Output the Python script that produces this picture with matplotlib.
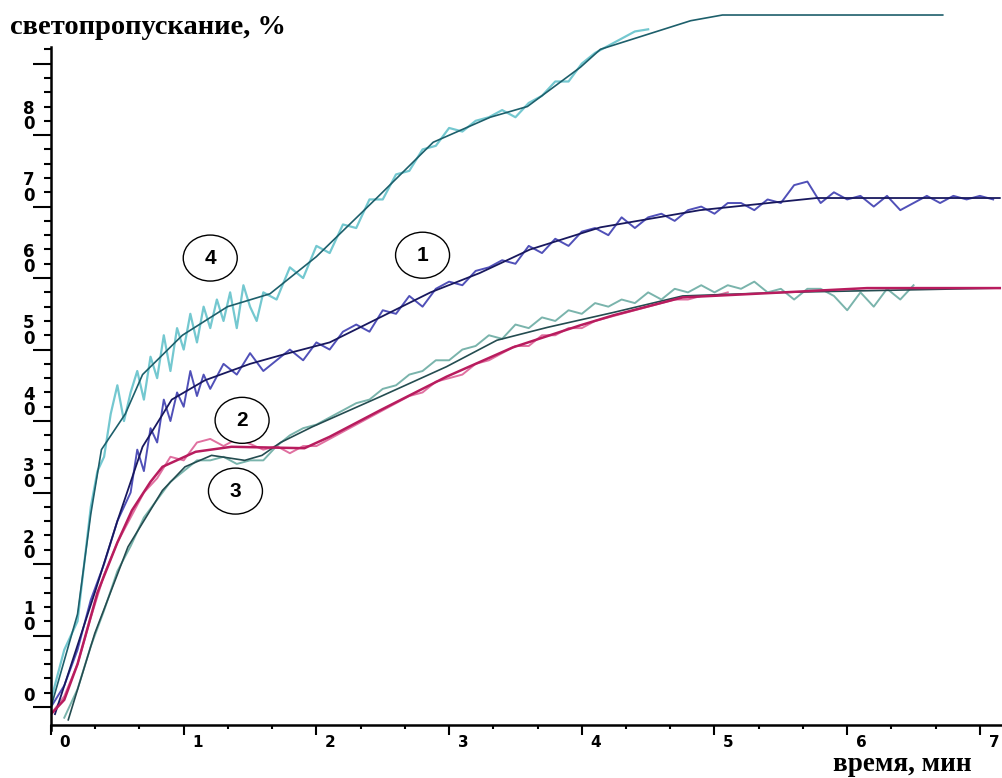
import numpy as np
import matplotlib
matplotlib.use('Agg')
from matplotlib import pyplot as plt
from matplotlib.patches import Ellipse
from matplotlib.transforms import ScaledTranslation

# --- curve 4 (top, cyan) ---
t4_fit = [0.0, 0.2, 0.3, 0.38, 0.56, 0.69, 0.99, 1.33, 1.65, 2.0, 2.46, 2.88, 3.31, 3.59, 3.99, 4.14, 4.82, 5.06, 6.72]
v4_fit = [0, 13, 27, 36, 41, 46.5, 52, 56, 57.8, 63, 71.3, 79, 82.5, 84, 89.5, 92, 96, 96.8, 96.8]
t4_raw = [0.0, 0.1, 0.2, 0.3, 0.35, 0.4, 0.45, 0.5, 0.55, 0.6, 0.65, 0.7, 0.75, 0.8, 0.85, 0.9, 0.95, 1.0,
          1.05, 1.1, 1.15, 1.2, 1.25, 1.3, 1.35, 1.4, 1.45, 1.5, 1.55, 1.6, 1.7, 1.8, 1.9,
          2.0, 2.1, 2.2, 2.3, 2.4, 2.5, 2.6, 2.7, 2.8, 2.9, 3.0, 3.1, 3.2, 3.3, 3.4, 3.5, 3.6, 3.7, 3.8, 3.9,
          4.0, 4.1, 4.2, 4.3, 4.4, 4.5]
v4_raw = [1, 8, 12, 28, 33, 35, 41, 45, 40, 44, 47, 43, 49, 46, 52, 47, 53, 50, 55,
          51, 56, 53, 57, 54, 58, 53, 59, 56, 54, 58, 57, 61.5, 60,
          64.5, 63.5, 67.5, 67, 71, 71, 74.5, 75, 78, 78.5, 81, 80.5, 82, 82.5, 83.5, 82.5, 84.5, 85.5, 87.5, 87.5,
          90, 91.5, 92.5, 93.5, 94.5, 94.8]

# --- curve 1 (dark blue) ---
t1_fit = [0.03, 0.33, 0.5, 0.69, 0.91, 1.16, 1.5, 1.73, 2.1, 2.48, 2.86, 3.23, 3.61, 4.14, 4.89, 5.77, 7.15]
v1_fit = [-1, 16, 26, 36.4, 43, 45.7, 48, 49.2, 51, 54.5, 58, 60.7, 64, 67.1, 69.5, 71.2, 71.2]
t1_raw = [0.0, 0.1, 0.2, 0.3, 0.4, 0.5, 0.6, 0.65, 0.7, 0.75, 0.8, 0.85, 0.9, 0.95, 1.0, 1.05, 1.1, 1.15, 1.2,
          1.3, 1.4, 1.5, 1.6, 1.7, 1.8, 1.9,
          2.0, 2.1, 2.2, 2.3, 2.4, 2.5, 2.6, 2.7, 2.8, 2.9, 3.0, 3.1, 3.2, 3.3, 3.4, 3.5, 3.6, 3.7, 3.8, 3.9,
          4.0, 4.1, 4.2, 4.3, 4.4, 4.5, 4.6, 4.7, 4.8, 4.9, 5.0, 5.1, 5.2, 5.3, 5.4, 5.5, 5.6, 5.7, 5.8, 5.9,
          6.0, 6.1, 6.2, 6.3, 6.4, 6.5, 6.6, 6.7, 6.8, 6.9, 7.0, 7.1]
v1_raw = [0, 3, 8, 15, 20, 26, 30, 36, 33, 39, 37, 43, 40, 44, 42, 47, 43.5, 46.5, 44.5,
          48, 46.5, 49.5, 47, 48.5, 50, 48.5,
          51, 50, 52.5, 53.5, 52.5, 55.5, 55, 57.5, 56, 58.5, 59.5, 59, 61, 61.5, 62.5, 62, 64.5, 63.5, 65.5, 64.5,
          66.5, 67, 66, 68.5, 67, 68.5, 69, 68, 69.5, 70, 69, 70.5, 70.5, 69.5, 71, 70.5, 73, 73.5, 70.5, 72,
          71, 71.5, 70, 71.5, 69.5, 70.5, 71.5, 70.5, 71.5, 71, 71.5, 71]

# --- curve 2 (magenta) ---
t2_fit = [0.0, 0.1, 0.2, 0.35, 0.5, 0.61, 0.75, 0.84, 1.09, 1.36, 1.91, 2.1, 2.48, 2.98, 3.48, 3.99, 4.24, 4.76, 5.52, 6.15, 7.15]
v2_fit = [-1, 1, 6, 16, 23, 27.5, 31.5, 33.6, 35.7, 36.4, 36.2, 37.8, 41.5, 46.2, 50.3, 53.4, 54.8, 57.3, 58, 58.6, 58.6]
t2_raw = [0.0, 0.1, 0.2, 0.3, 0.4, 0.5, 0.6, 0.7, 0.8, 0.9, 1.0, 1.1, 1.2, 1.3, 1.4, 1.5, 1.6, 1.7, 1.8, 1.9,
          2.0, 2.1, 2.2, 2.3, 2.4, 2.5, 2.6, 2.7, 2.8, 2.9, 3.0, 3.1, 3.2, 3.3, 3.4, 3.5, 3.6, 3.7, 3.8, 3.9,
          4.0, 4.1, 4.2, 4.3, 4.4, 4.5, 4.6, 4.7, 4.8, 4.9, 5.0, 5.1]
v2_raw = [-1, 1.5, 6, 12.5, 18.5, 23, 26.5, 30, 32, 35, 34.5, 37, 37.5, 36.5, 37.5, 36.8, 36, 36.5, 35.5, 36.5,
          36.5, 37.5, 38.5, 39.5, 40.5, 41.5, 42.5, 43.5, 44, 45.5, 46, 46.5, 48, 48.5, 49.5, 50.5, 50.5, 52, 52, 53,
          53, 54, 54.5, 55, 55.5, 56, 56.5, 57, 57, 57.5, 57.5, 58]

# --- curve 3 (grey-teal) ---
t3_fit = [0.13, 0.33, 0.58, 0.84, 1.01, 1.21, 1.46, 1.59, 1.73, 1.97, 2.48, 2.98, 3.36, 3.74, 4.24, 4.76, 5.52, 7.15]
v3_fit = [-1.8, 10.3, 22.4, 30.3, 33.6, 35.2, 34.5, 35.2, 37, 39.2, 43.4, 47.6, 51.3, 53.1, 55.2, 57.5, 58, 58.6]
t3_raw = [0.1, 0.2, 0.3, 0.4, 0.5, 0.6, 0.7, 0.8, 0.9, 1.0, 1.1, 1.2, 1.3, 1.4, 1.5, 1.6, 1.7, 1.8, 1.9,
          2.0, 2.1, 2.2, 2.3, 2.4, 2.5, 2.6, 2.7, 2.8, 2.9, 3.0, 3.1, 3.2, 3.3, 3.4, 3.5, 3.6, 3.7, 3.8, 3.9,
          4.0, 4.1, 4.2, 4.3, 4.4, 4.5, 4.6, 4.7, 4.8, 4.9, 5.0, 5.1, 5.2, 5.3, 5.4, 5.5, 5.6, 5.7, 5.8, 5.9,
          6.0, 6.1, 6.2, 6.3, 6.4, 6.5]
v3_raw = [-1.5, 2.5, 8.5, 13.5, 19, 22.5, 26.5, 29, 31.5, 33, 34.5, 34.5, 35, 34, 34.5, 34.5, 36.5, 38, 39,
          39.5, 40.5, 41.5, 42.5, 43, 44.5, 45, 46.5, 47, 48.5, 48.5, 50, 50.5, 52, 51.5, 53.5, 53, 54.5, 54, 55.5,
          55, 56.5, 56, 57, 56.5, 58, 57, 58.5, 58, 59, 58, 59, 58.5, 59.5, 58, 58.5, 57, 58.5, 58.5, 57.5,
          55.5, 58, 56, 58.5, 57, 59]

curve_names = ['1', '2', '3', '4']
label_t = [2.80, 1.44, 1.39, 1.20]
label_v = [63.2, 40.1, 30.2, 62.8]

y_ticks = [0, 10, 20, 30, 40, 50, 60, 70, 80, 90]
y_labels = ['0', '1\n0', '2\n0', '3\n0', '4\n0', '5\n0', '6\n0', '7\n0', '8\n0', '']
x_ticks = [0, 1, 2, 3, 4, 5, 6, 7]

fig = plt.figure(figsize=(10.02, 7.78), dpi=100)
ax = fig.add_axes([51 / 1002, 53 / 778, 951 / 1002, 725 / 778])
ax.set_xlim(0, 951 / 132.7)
ax.set_ylim(-2.52, 98.9)

ax.plot(t4_raw, v4_raw, color='#74c8d0', lw=1.6)
ax.plot(t1_raw, v1_raw, color='#5050b8', lw=1.4)
ax.plot(t3_raw, v3_raw, color='#7ab4ac', lw=1.4)
ax.plot(t2_raw, v2_raw, color='#e070a0', lw=1.4)

ax.plot(t4_fit, v4_fit, color='#1d5f6b', lw=1.2)
ax.plot(t1_fit, v1_fit, color='#18185e', lw=1.3)
ax.plot(t3_fit, v3_fit, color='#244c50', lw=1.2)
ax.plot(t2_fit, v2_fit, color='#b81c5e', lw=1.8)

for name, lt, lv in zip(curve_names, label_t, label_v):
    ax.add_patch(Ellipse((lt, lv), 54 / 132.7, 46 / 7.15, facecolor='white', edgecolor='black', lw=1, zorder=5))
    ax.text(lt, lv, name, ha='center', va='center', fontsize=15, fontweight='bold',
            family='Liberation Sans', zorder=6)

for s in ['top', 'right']:
    ax.spines[s].set_visible(False)
ax.spines['left'].set_linewidth(1.8)
ax.spines['bottom'].set_linewidth(1.8)
ax.spines['left'].set_bounds(-3.2, 92.3)

ax.set_yticks(y_ticks, labels=y_labels)
ax.set_yticks(np.arange(0, 93, 2), minor=True)
ax.set_xticks(x_ticks, labels=[str(x) for x in x_ticks])
ax.set_xticks(np.arange(0, 7.2, 1 / 3), minor=True)
ax.tick_params(axis='y', which='major', direction='out', length=13, width=1.5, pad=3,
               labelsize=12)
ax.tick_params(axis='y', which='minor', direction='out', length=5, width=1.5)
ax.tick_params(axis='x', which='major', direction='out', length=7, width=1.5, pad=0,
               labelsize=11)
ax.tick_params(axis='x', which='minor', direction='out', length=3, width=1.5)

for lab in ax.get_yticklabels():
    lab.set_fontweight('bold')
    lab.set_ha('center')
    lab.set_va('bottom')
    lab.set_linespacing(0.8)
    lab.set_transform(lab.get_transform() + ScaledTranslation(0, 0.02, fig.dpi_scale_trans))
for lab in ax.get_xticklabels():
    lab.set_fontweight('bold')
    lab.set_transform(lab.get_transform() + ScaledTranslation(0.14, 0, fig.dpi_scale_trans))

fig.text(10 / 1002, 1 - 28 / 778, 'светопропускание, %', fontsize=20.5, fontweight='bold',
         family='Liberation Serif', ha='left', va='center')
fig.text(833 / 1002, 1 / 778, 'время, мин', fontsize=19.5, fontweight='bold',
         family='Liberation Serif', ha='left', va='bottom')

fig.savefig('out.png', dpi=100)
